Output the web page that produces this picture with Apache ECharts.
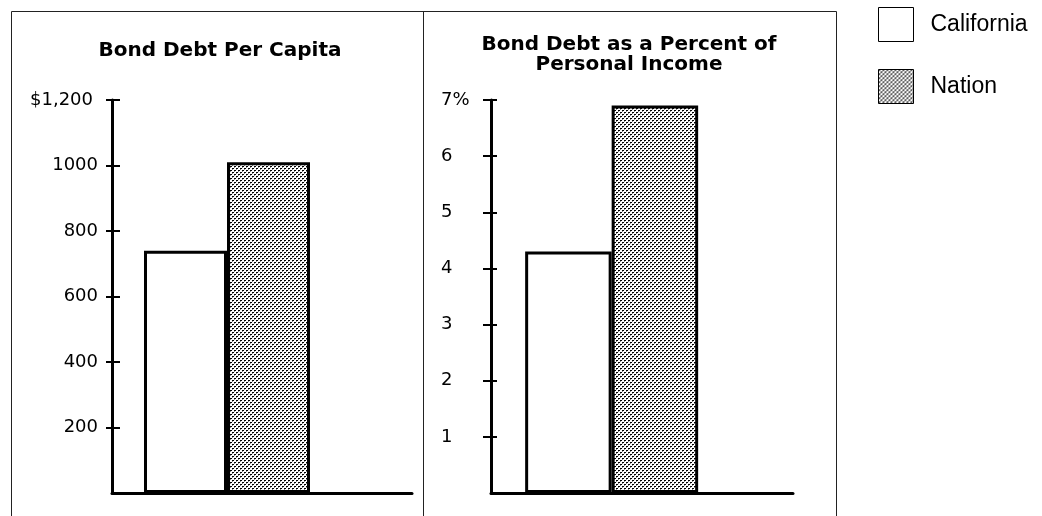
<!DOCTYPE html>
<html>
<head>
<meta charset="utf-8">
<script src="https://cdn.jsdelivr.net/npm/echarts@6/dist/echarts.min.js"></script>
<style>
  html, body { margin: 0; padding: 0; background: #fff; }
  #chart { width: 1042px; height: 516px; }
</style>
</head>
<body>
<div id="chart"></div>
<script>
// Bond debt: California vs. the nation
const seriesNames = ['California', 'Nation'];
const perCapita = [740, 1010];          // dollars per person
const pctIncome = [4.3, 6.9];           // percent of personal income
const perCapitaTicks = [200, 400, 600, 800, 1000, 1200];
const pctTicks = [1, 2, 3, 4, 5, 6, 7];
const panelTitles = ['Bond Debt Per Capita', 'Bond Debt as a Percent of\nPersonal Income'];

// stippled grey fill used for the national figures
function stipple() {
  const c = document.createElement('canvas');
  c.width = 4; c.height = 4;
  const g = c.getContext('2d');
  g.fillStyle = '#fff'; g.fillRect(0, 0, 4, 4);
  g.fillStyle = '#000';
  g.fillRect(0, 0, 2, 1); g.fillRect(2, 2, 2, 1);
  g.fillStyle = '#888';
  g.fillRect(0, 1, 1, 1); g.fillRect(2, 3, 1, 1);
  return { image: c, repeat: 'repeat' };
}
const dots = stipple();
const fills = ['#ffffff', dots];

const labelFont = { fontFamily: 'DejaVu Sans', fontSize: 18, color: '#000' };
const lineStyle = { color: '#000', width: 3 };

function yPair(gridIndex, ticks, fmt, labelOpts, outLen, inLen) {
  const max = ticks[ticks.length - 1];
  return [
    {
      type: 'value', gridIndex, min: 0, max,
      axisLine: { show: true, lineStyle },
      axisTick: { show: true, customValues: ticks, length: outLen, lineStyle: { color: '#000', width: 2 } },
      axisLabel: Object.assign({ customValues: ticks, formatter: fmt }, labelFont, labelOpts),
      splitLine: { show: false }
    },
    {
      type: 'value', gridIndex, min: 0, max, position: 'left',
      axisLine: { show: false },
      axisTick: { show: true, inside: true, customValues: ticks, length: inLen, lineStyle: { color: '#000', width: 2 } },
      axisLabel: { show: false },
      splitLine: { show: false }
    }
  ];
}

const yAxes = [].concat(
  yPair(0, perCapitaTicks,
    v => v === perCapitaTicks[perCapitaTicks.length - 1] ? '{t|$1,200}' : String(v),
    { margin: 14, rich: { t: { fontFamily: 'DejaVu Sans', fontSize: 18, color: '#000', padding: [0, 5, 0, 0] } } },
    6, 8),
  yPair(1, pctTicks,
    v => v === pctTicks[pctTicks.length - 1] ? v + '%' : String(v),
    { margin: 50, align: 'left' },
    8, 6)
);

function barSeries(values, gridIdx, widths) {
  const out = seriesNames.map((name, i) => ({
    name, type: 'bar',
    xAxisIndex: gridIdx, yAxisIndex: gridIdx * 2,
    data: [values[i]],
    barWidth: widths[i], barGap: '0%',
    itemStyle: { color: fills[i], borderColor: '#000', borderWidth: 3 },
    emphasis: { disabled: true }
  }));
  // empty slot that pushes the pair of bars left of the band centre
  out.push({
    name: 'gap', type: 'bar', xAxisIndex: gridIdx, yAxisIndex: gridIdx * 2,
    data: [], barWidth: widths[2], barGap: '0%'
  });
  return out;
}

const chart = echarts.init(document.getElementById('chart'), null, { renderer: 'canvas' });
chart.setOption({
  animation: false,
  backgroundColor: '#fff',
  title: [
    { text: panelTitles[0], left: 215, top: 36, textAlign: 'center',
      textStyle: { fontFamily: 'DejaVu Sans', fontWeight: 'bold', fontSize: 20, color: '#000' } },
    { text: panelTitles[1], left: 624, top: 30, textAlign: 'center',
      textStyle: { fontFamily: 'DejaVu Sans', fontWeight: 'bold', fontSize: 20, lineHeight: 20, color: '#000' } }
  ],
  legend: {
    orient: 'vertical', left: 873, top: 2,
    itemWidth: 35, itemHeight: 34, itemGap: 27,
    icon: 'rect',
    data: seriesNames,
    selectedMode: false,
    itemStyle: { borderColor: '#000', borderWidth: 1 },
    textStyle: { fontFamily: 'Liberation Sans', fontSize: 23, color: '#000', padding: [5, 0, 0, 12] }
  },
  grid: [
    { left: 112, right: 630, top: 100, bottom: 23 },
    { left: 491, right: 249, top: 100, bottom: 23 }
  ],
  xAxis: [0, 1].map(g => ({
    type: 'category', gridIndex: g, data: [''],
    axisLine: { show: true, lineStyle },
    axisTick: { show: false }, axisLabel: { show: false }, splitLine: { show: false }
  })),
  yAxis: yAxes,
  series: [].concat(
    barSeries(perCapita, 0, [83, 83, 70]),
    barSeries(pctIncome, 1, [86.5, 86.5, 60.7])
  ),
  graphic: [
    { type: 'rect', silent: true, z: 100,
      shape: { x: 11.5, y: 11.5, width: 825, height: 520 },
      style: { fill: null, stroke: '#222', lineWidth: 1 } },
    { type: 'line', silent: true, z: 100,
      shape: { x1: 423.5, y1: 11.5, x2: 423.5, y2: 516 },
      style: { stroke: '#222', lineWidth: 1 } }
  ]
});
</script>
</body>
</html>
